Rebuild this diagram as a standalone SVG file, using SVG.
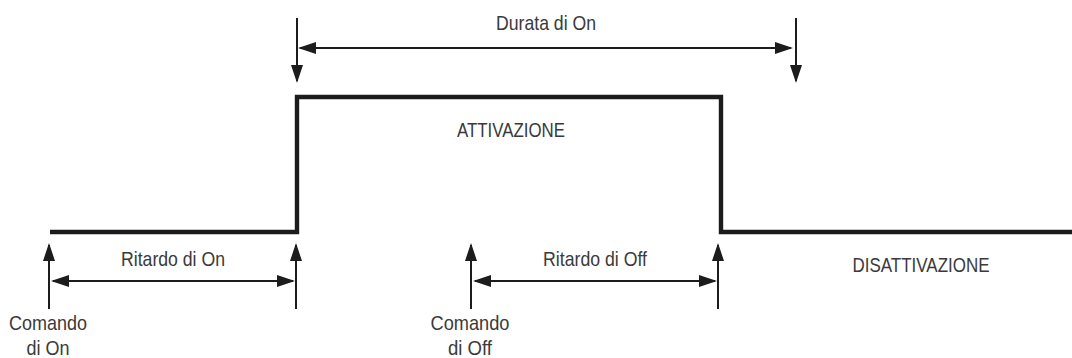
<svg xmlns="http://www.w3.org/2000/svg" width="1072" height="358" viewBox="0 0 1072 358">
  <style>
    .sig { fill: none; stroke: #1c1c1c; stroke-width: 4.4; stroke-linejoin: miter; stroke-linecap: butt; }
    .arr { fill: none; stroke: #1c1c1c; stroke-width: 2; }
    .up, .down { marker-end: url(#ah); }
    .dbl { marker-start: url(#ah); marker-end: url(#ah); }
    text { font-family: "Liberation Sans", Arial, sans-serif; font-size: 21px; fill: #3a3a3a; text-anchor: middle; }
  </style>
  <defs>
    <marker id="ah" viewBox="0 0 18 12" refX="16" refY="6" markerWidth="18" markerHeight="12" markerUnits="userSpaceOnUse" orient="auto-start-reverse">
      <path d="M0,0 L18,6 L0,12 Z" fill="#1c1c1c"/>
    </marker>
  </defs>
  <rect width="1072" height="358" fill="#ffffff"/>

  <g id="signal">
    <path class="sig" d="M50,232 H297 V97 H721 V232 H1072"/>
  </g>

  <g id="connectors">
    <line class="arr up" x1="49" y1="309" x2="49" y2="245"/>
    <line class="arr up" x1="296" y1="309" x2="296" y2="245"/>
    <line class="arr up" x1="471" y1="309" x2="471" y2="245"/>
    <line class="arr up" x1="718" y1="309" x2="718" y2="245"/>
    <line class="arr down" x1="297" y1="18" x2="297" y2="81"/>
    <line class="arr down" x1="796" y1="18" x2="796" y2="81"/>
    <line class="arr dbl" x1="300" y1="48" x2="791" y2="48"/>
    <line class="arr dbl" x1="53" y1="281" x2="293" y2="281"/>
    <line class="arr dbl" x1="475" y1="281" x2="715" y2="281"/>
  </g>

  <g id="label-durata">
    <text x="546" y="30" textLength="100" lengthAdjust="spacingAndGlyphs">Durata di On</text>
  </g>
  <g id="label-attivazione">
    <text x="511" y="137" textLength="108" lengthAdjust="spacingAndGlyphs">ATTIVAZIONE</text>
  </g>
  <g id="label-ritardo-on">
    <text x="173" y="266" textLength="104" lengthAdjust="spacingAndGlyphs">Ritardo di On</text>
  </g>
  <g id="label-ritardo-off">
    <text x="595" y="266" textLength="104" lengthAdjust="spacingAndGlyphs">Ritardo di Off</text>
  </g>
  <g id="label-disattivazione">
    <text x="921" y="272" textLength="137" lengthAdjust="spacingAndGlyphs">DISATTIVAZIONE</text>
  </g>
  <g id="label-comando-on">
    <text x="48" y="330" textLength="78" lengthAdjust="spacingAndGlyphs">Comando</text>
    <text x="48" y="355" textLength="43" lengthAdjust="spacingAndGlyphs">di On</text>
  </g>
  <g id="label-comando-off">
    <text x="470" y="330" textLength="79" lengthAdjust="spacingAndGlyphs">Comando</text>
    <text x="470" y="355" textLength="44" lengthAdjust="spacingAndGlyphs">di Off</text>
  </g>
</svg>
